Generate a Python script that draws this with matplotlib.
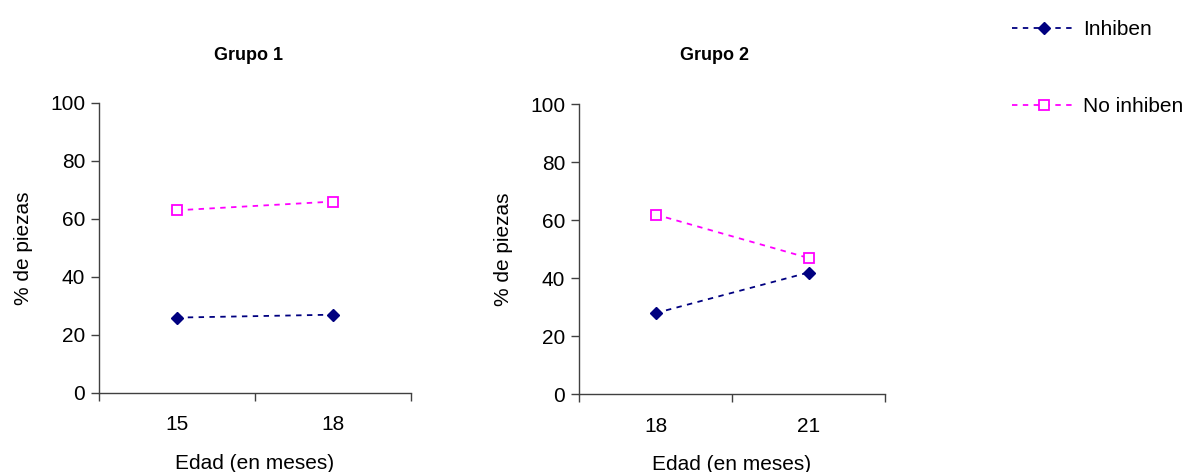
import matplotlib
matplotlib.use("Agg")
import matplotlib.pyplot as plt
from matplotlib.lines import Line2D

plt.rcParams['font.family'] = ['Liberation Sans', 'DejaVu Sans']

# Data
grupo1_edades = ["15", "18"]
grupo1_inhiben = [26, 27]
grupo1_no_inhiben = [63, 66]

grupo2_edades = ["18", "21"]
grupo2_inhiben = [28, 42]
grupo2_no_inhiben = [62, 47]

y_ticks = [0, 20, 40, 60, 80, 100]

NAVY = "#000080"
MAGENTA = "#FF00FF"
AXIS_COLOR = "#404040"
FS = 15

fig = plt.figure(figsize=(11.88, 4.72), dpi=100)

ax1 = fig.add_axes([0.0833, 0.1674, 0.2626, 0.6144])
ax2 = fig.add_axes([0.4874, 0.1646, 0.2576, 0.6144])


def draw_panel(ax, title, title_x, edades, inhiben, no_inhiben):
    x = list(range(len(edades)))
    ax.plot(x, inhiben, color=NAVY, linestyle=(0, (3, 3)), linewidth=1.3,
            marker="D", markersize=6, markerfacecolor=NAVY, markeredgecolor=NAVY)
    ax.plot(x, no_inhiben, color=MAGENTA, linestyle=(0, (3, 3)), linewidth=1.3,
            marker="s", markersize=7, markerfacecolor="white",
            markeredgecolor=MAGENTA, markeredgewidth=1.3)
    ax.set_xlim(-0.5, len(edades) - 0.5)
    ax.set_ylim(0, 100)
    ax.set_yticks(y_ticks)
    ax.tick_params(axis="y", labelsize=FS, length=6, width=1, color=AXIS_COLOR, pad=4)
    # category boundaries carry the tick marks, labels sit at the category centres
    ax.set_xticks([i - 0.5 for i in range(len(edades) + 1)])
    ax.set_xticklabels([])
    ax.set_xticks(x, minor=True)
    ax.set_xticklabels(edades, minor=True)
    ax.tick_params(axis="x", which="major", length=6, width=1, color=AXIS_COLOR)
    ax.tick_params(axis="x", which="minor", length=0, labelsize=FS, pad=16)
    for side in ("top", "right"):
        ax.spines[side].set_visible(False)
    for side in ("left", "bottom"):
        ax.spines[side].set_color(AXIS_COLOR)
        ax.spines[side].set_linewidth(1)
    fig.text(title_x, 1 - 55 / 472, title, fontsize=13, fontweight="bold",
             ha="center", va="center")
    ax.set_xlabel("Edad (en meses)", fontsize=FS, labelpad=14)
    ax.set_ylabel("% de piezas", fontsize=FS, labelpad=12)


draw_panel(ax1, "Grupo 1", 248 / 1188, grupo1_edades, grupo1_inhiben, grupo1_no_inhiben)
draw_panel(ax2, "Grupo 2", 715 / 1188, grupo2_edades, grupo2_inhiben, grupo2_no_inhiben)

handles = [
    Line2D([], [], color=NAVY, linestyle=(0, (3, 3)), linewidth=1.3, marker="D",
           markersize=6, markerfacecolor=NAVY, markeredgecolor=NAVY),
    Line2D([], [], color=MAGENTA, linestyle=(0, (3, 3)), linewidth=1.3, marker="s",
           markersize=7, markerfacecolor="white", markeredgecolor=MAGENTA,
           markeredgewidth=1.3),
]
fig.legend(handles, ["Inhiben", "No inhiben"], loc="upper left",
           bbox_to_anchor=(1012 / 1188, 1 - 20 / 472), frameon=False, fontsize=FS,
           handlelength=3.1, handletextpad=0.3, labelspacing=2.78, borderaxespad=0,
           borderpad=0)

fig.savefig("out.png", dpi=100)
